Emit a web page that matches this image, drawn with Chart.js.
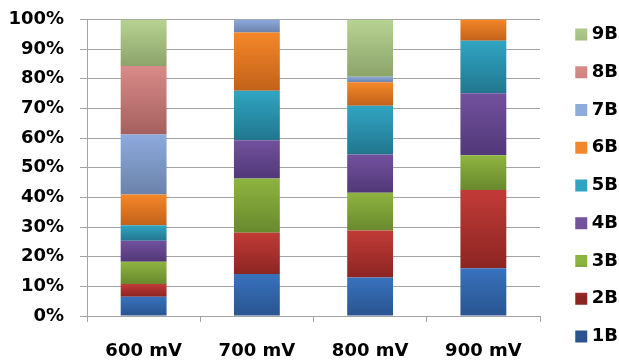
<!DOCTYPE html>
<html>
<head>
<meta charset="utf-8">
<script src="https://cdn.jsdelivr.net/npm/chart.js@4.4.1/dist/chart.umd.min.js"></script>
<style>
  html, body { margin: 0; padding: 0; background: #fff; overflow: hidden; }
  #wrap { width: 628px; height: 362px; }
</style>
</head>
<body>
<div id="wrap"><canvas id="bars"></canvas></div>
<script>
const categories = ['600 mV', '700 mV', '800 mV', '900 mV'];
const seriesNames = ['1B', '2B', '3B', '4B', '5B', '6B', '7B', '8B', '9B'];

// share of each band per voltage, in %
const b1 = [6.5, 14.2, 13.0, 16.1];
const b2 = [4.3, 13.9, 15.8, 26.4];
const b3 = [7.5, 18.3, 12.8, 11.7];
const b4 = [7.1, 12.9, 12.9, 20.9];
const b5 = [5.2, 16.7, 16.4, 17.7];
const b6 = [10.4, 19.6, 7.9, 7.2];
const b7 = [20.2, 4.4, 1.9, 0];
const b8 = [23.1, 0, 0, 0];
const b9 = [15.7, 0, 19.3, 0];
const series = [b1, b2, b3, b4, b5, b6, b7, b8, b9];

const yTicks = [0, 10, 20, 30, 40, 50, 60, 70, 80, 90, 100];

// light top -> dark bottom, like the office style bars
const shades = [
    ['#3872bd', '#29548f'],
    ['#c13b38', '#8c2522'],
    ['#8eb440', '#69892d'],
    ['#72519d', '#513878'],
    ['#30a5c3', '#22768e'],
    ['#f48729', '#c2621a'],
    ['#8eabde', '#6b82aa'],
    ['#d98b89', '#a4605e'],
    ['#b7d392', '#8ca36a']
];
const legendFill = ['#3264a8', '#a8302d', '#7ca037', '#62458c', '#2a90ab', '#e0761f', '#7f98c8', '#c07674', '#a3bc80'];

function segmentFill(i) {
    return function (c) {
        if (c.type !== 'data') return legendFill[i];
        const y = c.chart.scales.y;
        if (!y || !c.chart.chartArea) return shades[i][0];
        let base = 0;
        for (let k = 0; k < i; k++) base += series[k][c.dataIndex];
        const top = y.getPixelForValue(base + series[i][c.dataIndex]);
        const bottom = y.getPixelForValue(base);
        if (!(bottom - top > 0.5)) return shades[i][0];
        const g = c.chart.ctx.createLinearGradient(0, top, 0, bottom);
        g.addColorStop(0, shades[i][0]);
        g.addColorStop(1, shades[i][1]);
        return g;
    };
}

const font = { family: 'DejaVu Sans', weight: 'bold', size: 18 };
const grey = '#a3a3a3';

new Chart(document.getElementById('bars'), {
    type: 'bar',
    data: {
        labels: categories,
        datasets: series.map((vals, i) => ({
            label: seriesNames[i],
            data: vals,
            backgroundColor: segmentFill(i),
            borderWidth: 0,
            barPercentage: 0.9,
            categoryPercentage: 0.45
        }))
    },
    options: {
        responsive: true,
        maintainAspectRatio: false,
        animation: false,
        layout: { padding: { top: 0, left: 8, right: 0, bottom: -9 } },
        plugins: {
            tooltip: { enabled: false },
            legend: {
                position: 'right',
                reverse: true,
                labels: {
                    usePointStyle: true,
                    pointStyle: 'rect',
                    boxWidth: 3,
                    boxHeight: 12,
                    padding: 19.75,
                    color: '#000',
                    font: font
                }
            }
        },
        scales: {
            x: {
                stacked: true,
                grid: { offset: true, drawOnChartArea: false, drawTicks: true, tickLength: 6, color: grey },
                border: { display: true, color: grey },
                ticks: { color: '#000', font: font, padding: 19 },
                afterFit: s => { s.height = 55; }
            },
            y: {
                stacked: true,
                min: 0,
                max: 100,
                afterBuildTicks: s => { s.ticks = yTicks.map(v => ({ value: v })); },
                grid: { color: grey, tickLength: 7 },
                border: { display: true, color: grey },
                ticks: { color: '#000', font: font, padding: 16, callback: v => v + '%' },
                afterFit: s => { s.width = 79; s.paddingTop = 19.5; s.paddingBottom = 0; }
            },
            gap: {
                type: 'linear',
                position: 'right',
                min: 0,
                max: 100,
                grid: { display: false },
                border: { display: false },
                ticks: { display: false },
                afterFit: s => { s.width = 20; }
            }
        }
    }
});
</script>
</body>
</html>
